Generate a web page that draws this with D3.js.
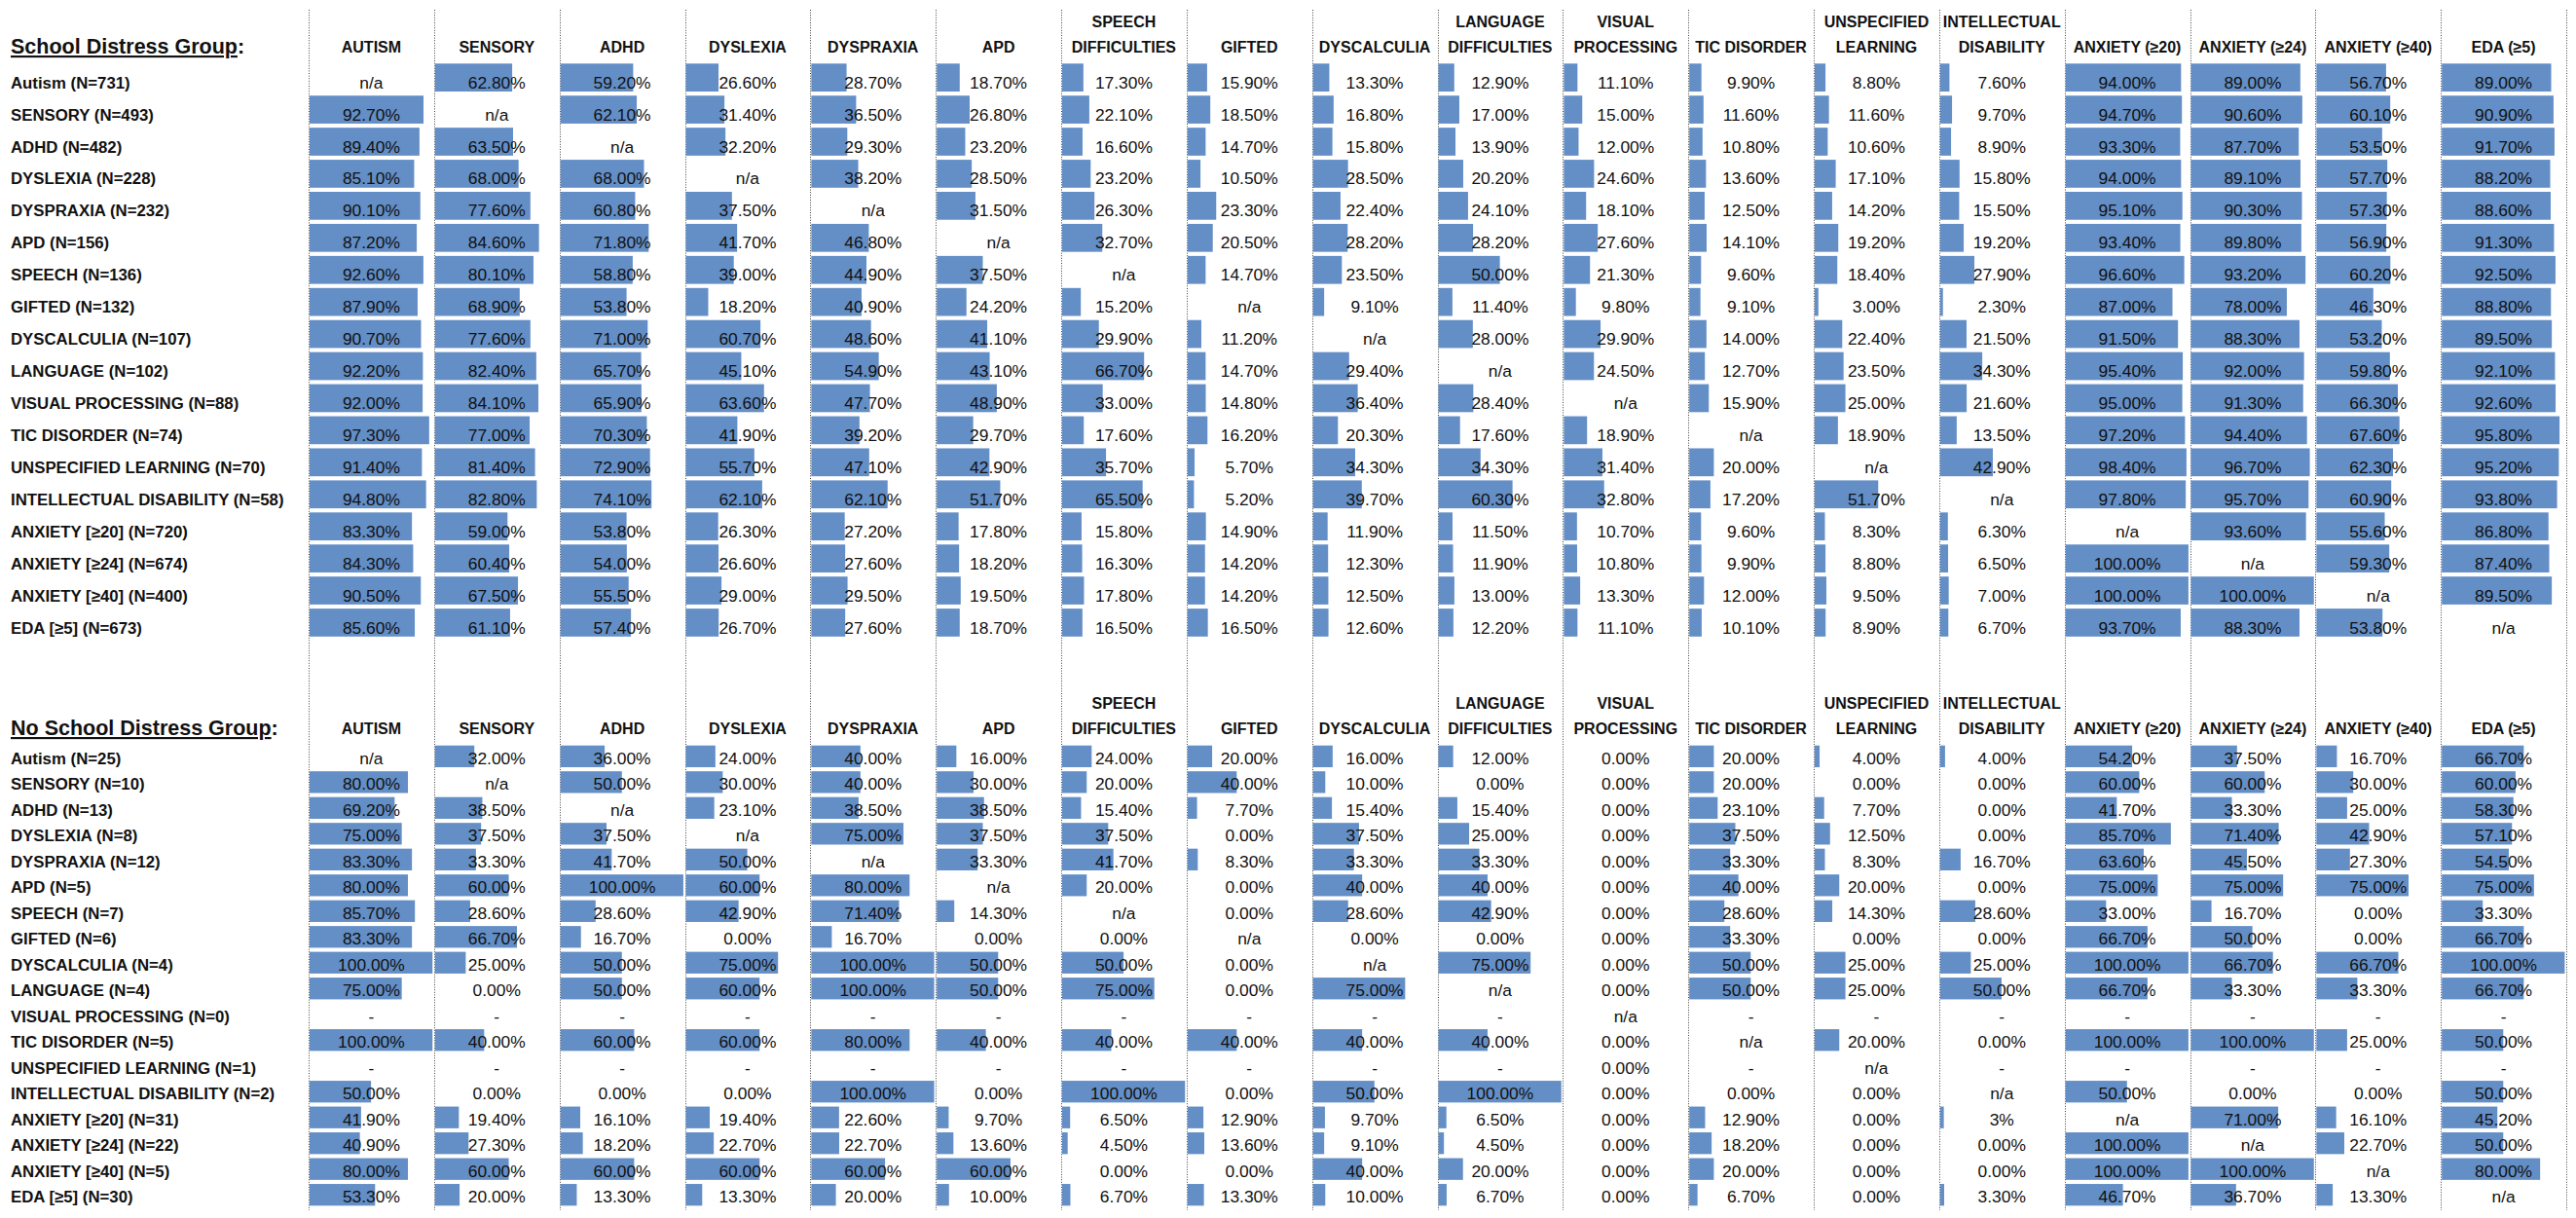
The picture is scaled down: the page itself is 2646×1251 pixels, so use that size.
<!DOCTYPE html>
<html>
<head>
<meta charset="utf-8">
<script src="https://cdn.jsdelivr.net/npm/d3@7"></script>
<style>
  html, body { margin: 0; padding: 0; background: #fff; }
  svg { display: block; font-family: "Liberation Sans", Arial, sans-serif; }
  .hdr { font-weight: 700; font-size: 16px; fill: #111; }
  .lbl { font-weight: 700; font-size: 16.8px; fill: #111; }
  .val { font-size: 17.4px; fill: #111; }
  .title { font-weight: 700; font-size: 21.5px; fill: #111; }
  .grid { stroke: #444; stroke-width: 1; stroke-dasharray: 1 1.6; }
  .bar { fill: #638ec6; }
</style>
</head>
<body>
<svg id="chart" width="2646" height="1251"></svg>
<script>

const columns = [
  "AUTISM", "SENSORY", "ADHD", "DYSLEXIA", "DYSPRAXIA", "APD",
  "SPEECH\nDIFFICULTIES", "GIFTED", "DYSCALCULIA", "LANGUAGE\nDIFFICULTIES",
  "VISUAL\nPROCESSING", "TIC DISORDER", "UNSPECIFIED\nLEARNING",
  "INTELLECTUAL\nDISABILITY", "ANXIETY (≥20)", "ANXIETY (≥24)", "ANXIETY (≥40)", "EDA (≥5)"
];

const distressLabels = [
  "Autism (N=731)", "SENSORY (N=493)", "ADHD (N=482)", "DYSLEXIA (N=228)",
  "DYSPRAXIA (N=232)", "APD (N=156)", "SPEECH (N=136)", "GIFTED (N=132)",
  "DYSCALCULIA (N=107)", "LANGUAGE (N=102)", "VISUAL PROCESSING (N=88)",
  "TIC DISORDER (N=74)", "UNSPECIFIED LEARNING (N=70)", "INTELLECTUAL DISABILITY (N=58)",
  "ANXIETY [≥20] (N=720)", "ANXIETY [≥24] (N=674)", "ANXIETY [≥40] (N=400)", "EDA [≥5] (N=673)"
];

const distressValues = [
  ["n/a","62.80%","59.20%","26.60%","28.70%","18.70%","17.30%","15.90%","13.30%","12.90%","11.10%","9.90%","8.80%","7.60%","94.00%","89.00%","56.70%","89.00%"],
  ["92.70%","n/a","62.10%","31.40%","36.50%","26.80%","22.10%","18.50%","16.80%","17.00%","15.00%","11.60%","11.60%","9.70%","94.70%","90.60%","60.10%","90.90%"],
  ["89.40%","63.50%","n/a","32.20%","29.30%","23.20%","16.60%","14.70%","15.80%","13.90%","12.00%","10.80%","10.60%","8.90%","93.30%","87.70%","53.50%","91.70%"],
  ["85.10%","68.00%","68.00%","n/a","38.20%","28.50%","23.20%","10.50%","28.50%","20.20%","24.60%","13.60%","17.10%","15.80%","94.00%","89.10%","57.70%","88.20%"],
  ["90.10%","77.60%","60.80%","37.50%","n/a","31.50%","26.30%","23.30%","22.40%","24.10%","18.10%","12.50%","14.20%","15.50%","95.10%","90.30%","57.30%","88.60%"],
  ["87.20%","84.60%","71.80%","41.70%","46.80%","n/a","32.70%","20.50%","28.20%","28.20%","27.60%","14.10%","19.20%","19.20%","93.40%","89.80%","56.90%","91.30%"],
  ["92.60%","80.10%","58.80%","39.00%","44.90%","37.50%","n/a","14.70%","23.50%","50.00%","21.30%","9.60%","18.40%","27.90%","96.60%","93.20%","60.20%","92.50%"],
  ["87.90%","68.90%","53.80%","18.20%","40.90%","24.20%","15.20%","n/a","9.10%","11.40%","9.80%","9.10%","3.00%","2.30%","87.00%","78.00%","46.30%","88.80%"],
  ["90.70%","77.60%","71.00%","60.70%","48.60%","41.10%","29.90%","11.20%","n/a","28.00%","29.90%","14.00%","22.40%","21.50%","91.50%","88.30%","53.20%","89.50%"],
  ["92.20%","82.40%","65.70%","45.10%","54.90%","43.10%","66.70%","14.70%","29.40%","n/a","24.50%","12.70%","23.50%","34.30%","95.40%","92.00%","59.80%","92.10%"],
  ["92.00%","84.10%","65.90%","63.60%","47.70%","48.90%","33.00%","14.80%","36.40%","28.40%","n/a","15.90%","25.00%","21.60%","95.00%","91.30%","66.30%","92.60%"],
  ["97.30%","77.00%","70.30%","41.90%","39.20%","29.70%","17.60%","16.20%","20.30%","17.60%","18.90%","n/a","18.90%","13.50%","97.20%","94.40%","67.60%","95.80%"],
  ["91.40%","81.40%","72.90%","55.70%","47.10%","42.90%","35.70%","5.70%","34.30%","34.30%","31.40%","20.00%","n/a","42.90%","98.40%","96.70%","62.30%","95.20%"],
  ["94.80%","82.80%","74.10%","62.10%","62.10%","51.70%","65.50%","5.20%","39.70%","60.30%","32.80%","17.20%","51.70%","n/a","97.80%","95.70%","60.90%","93.80%"],
  ["83.30%","59.00%","53.80%","26.30%","27.20%","17.80%","15.80%","14.90%","11.90%","11.50%","10.70%","9.60%","8.30%","6.30%","n/a","93.60%","55.60%","86.80%"],
  ["84.30%","60.40%","54.00%","26.60%","27.60%","18.20%","16.30%","14.20%","12.30%","11.90%","10.80%","9.90%","8.80%","6.50%","100.00%","n/a","59.30%","87.40%"],
  ["90.50%","67.50%","55.50%","29.00%","29.50%","19.50%","17.80%","14.20%","12.50%","13.00%","13.30%","12.00%","9.50%","7.00%","100.00%","100.00%","n/a","89.50%"],
  ["85.60%","61.10%","57.40%","26.70%","27.60%","18.70%","16.50%","16.50%","12.60%","12.20%","11.10%","10.10%","8.90%","6.70%","93.70%","88.30%","53.80%","n/a"]
];

const noDistressLabels = [
  "Autism (N=25)", "SENSORY (N=10)", "ADHD (N=13)", "DYSLEXIA (N=8)",
  "DYSPRAXIA (N=12)", "APD (N=5)", "SPEECH (N=7)", "GIFTED (N=6)",
  "DYSCALCULIA (N=4)", "LANGUAGE (N=4)", "VISUAL PROCESSING (N=0)",
  "TIC DISORDER (N=5)", "UNSPECIFIED LEARNING (N=1)", "INTELLECTUAL DISABILITY (N=2)",
  "ANXIETY [≥20] (N=31)", "ANXIETY [≥24] (N=22)", "ANXIETY [≥40] (N=5)", "EDA [≥5] (N=30)"
];

const noDistressValues = [
  ["n/a","32.00%","36.00%","24.00%","40.00%","16.00%","24.00%","20.00%","16.00%","12.00%","0.00%","20.00%","4.00%","4.00%","54.20%","37.50%","16.70%","66.70%"],
  ["80.00%","n/a","50.00%","30.00%","40.00%","30.00%","20.00%","40.00%","10.00%","0.00%","0.00%","20.00%","0.00%","0.00%","60.00%","60.00%","30.00%","60.00%"],
  ["69.20%","38.50%","n/a","23.10%","38.50%","38.50%","15.40%","7.70%","15.40%","15.40%","0.00%","23.10%","7.70%","0.00%","41.70%","33.30%","25.00%","58.30%"],
  ["75.00%","37.50%","37.50%","n/a","75.00%","37.50%","37.50%","0.00%","37.50%","25.00%","0.00%","37.50%","12.50%","0.00%","85.70%","71.40%","42.90%","57.10%"],
  ["83.30%","33.30%","41.70%","50.00%","n/a","33.30%","41.70%","8.30%","33.30%","33.30%","0.00%","33.30%","8.30%","16.70%","63.60%","45.50%","27.30%","54.50%"],
  ["80.00%","60.00%","100.00%","60.00%","80.00%","n/a","20.00%","0.00%","40.00%","40.00%","0.00%","40.00%","20.00%","0.00%","75.00%","75.00%","75.00%","75.00%"],
  ["85.70%","28.60%","28.60%","42.90%","71.40%","14.30%","n/a","0.00%","28.60%","42.90%","0.00%","28.60%","14.30%","28.60%","33.00%","16.70%","0.00%","33.30%"],
  ["83.30%","66.70%","16.70%","0.00%","16.70%","0.00%","0.00%","n/a","0.00%","0.00%","0.00%","33.30%","0.00%","0.00%","66.70%","50.00%","0.00%","66.70%"],
  ["100.00%","25.00%","50.00%","75.00%","100.00%","50.00%","50.00%","0.00%","n/a","75.00%","0.00%","50.00%","25.00%","25.00%","100.00%","66.70%","66.70%","100.00%"],
  ["75.00%","0.00%","50.00%","60.00%","100.00%","50.00%","75.00%","0.00%","75.00%","n/a","0.00%","50.00%","25.00%","50.00%","66.70%","33.30%","33.30%","66.70%"],
  ["-","-","-","-","-","-","-","-","-","-","n/a","-","-","-","-","-","-","-"],
  ["100.00%","40.00%","60.00%","60.00%","80.00%","40.00%","40.00%","40.00%","40.00%","40.00%","0.00%","n/a","20.00%","0.00%","100.00%","100.00%","25.00%","50.00%"],
  ["-","-","-","-","-","-","-","-","-","-","0.00%","-","n/a","-","-","-","-","-"],
  ["50.00%","0.00%","0.00%","0.00%","100.00%","0.00%","100.00%","0.00%","50.00%","100.00%","0.00%","0.00%","0.00%","n/a","50.00%","0.00%","0.00%","50.00%"],
  ["41.90%","19.40%","16.10%","19.40%","22.60%","9.70%","6.50%","12.90%","9.70%","6.50%","0.00%","12.90%","0.00%","3%","n/a","71.00%","16.10%","45.20%"],
  ["40.90%","27.30%","18.20%","22.70%","22.70%","13.60%","4.50%","13.60%","9.10%","4.50%","0.00%","18.20%","0.00%","0.00%","100.00%","n/a","22.70%","50.00%"],
  ["80.00%","60.00%","60.00%","60.00%","60.00%","60.00%","0.00%","0.00%","40.00%","20.00%","0.00%","20.00%","0.00%","0.00%","100.00%","100.00%","n/a","80.00%"],
  ["53.30%","20.00%","13.30%","13.30%","20.00%","10.00%","6.70%","13.30%","10.00%","6.70%","0.00%","6.70%","0.00%","3.30%","46.70%","36.70%","13.30%","n/a"]
];

// --- Layout ---

const svg = d3.select("#chart");
const x = d3.scaleBand().domain(columns).range([317, 2636]);
const barLen = d3.scaleLinear().domain([0, 100]).range([0, x.bandwidth() - 2.6]);

// dotted column separators, running through both tables
const edges = columns.map(c => x(c)).concat([x.range()[1]]);
svg.append("g").selectAll("line").data(edges).join("line")
  .attr("class", "grid")
  .attr("x1", d => Math.round(d) + 0.5).attr("x2", d => Math.round(d) + 0.5)
  .attr("y1", 10).attr("y2", 1243);

function drawTable(opts) {
  const g = svg.append("g");
  const y = d3.scaleBand().domain(opts.labels).range([opts.top, opts.top + opts.labels.length * opts.pitch]);

  // title
  const t = g.append("text").attr("class", "title").attr("x", 11).attr("y", opts.headerY + 1);
  t.append("tspan").style("text-decoration", "underline").text(opts.title);
  t.append("tspan").text(":");

  // column headers (one or two lines, bottom-aligned)
  const hdr = g.append("g").selectAll("text").data(columns).join("text")
    .attr("class", "hdr")
    .attr("text-anchor", "middle")
    .attr("x", d => x(d) + x.bandwidth() / 2)
    .attr("y", opts.headerY);
  hdr.each(function (d) {
    const lines = d.split("\n");
    d3.select(this).selectAll("tspan").data(lines).join("tspan")
      .attr("x", x(d) + x.bandwidth() / 2)
      .attr("y", (l, i) => opts.headerY - (lines.length - 1 - i) * 26.5)
      .text(l => l);
  });

  // row labels
  g.append("g").selectAll("text").data(opts.labels).join("text")
    .attr("class", "lbl")
    .attr("x", 11)
    .attr("y", d => y(d) + opts.textDy)
    .text(d => d);

  const cells = [];
  opts.values.forEach((row, r) => row.forEach((v, c) => {
    cells.push({ row: opts.labels[r], col: columns[c], text: v, num: parseFloat(v) });
  }));

  // data bars
  g.append("g").selectAll("rect").data(cells.filter(d => !isNaN(d.num) && d.num > 0)).join("rect")
    .attr("class", "bar")
    .attr("x", d => x(d.col) + 1)
    .attr("y", d => y(d.row) + opts.barTop)
    .attr("width", d => barLen(d.num))
    .attr("height", opts.barH);

  // cell text
  g.append("g").selectAll("text").data(cells).join("text")
    .attr("class", "val")
    .attr("text-anchor", "middle")
    .attr("x", d => x(d.col) + x.bandwidth() / 2)
    .attr("y", d => y(d.row) + opts.textDy)
    .text(d => d.text);
}

drawTable({
  title: "School Distress Group", labels: distressLabels, values: distressValues,
  headerY: 54, top: 64, pitch: 32.93, barTop: 1.3, barH: 28.7, textDy: 26.7
});

drawTable({
  title: "No School Distress Group", labels: noDistressLabels, values: noDistressValues,
  headerY: 754, top: 764.5, pitch: 26.49, barTop: 1.2, barH: 22.3, textDy: 20.5
});
</script>
</body>
</html>
